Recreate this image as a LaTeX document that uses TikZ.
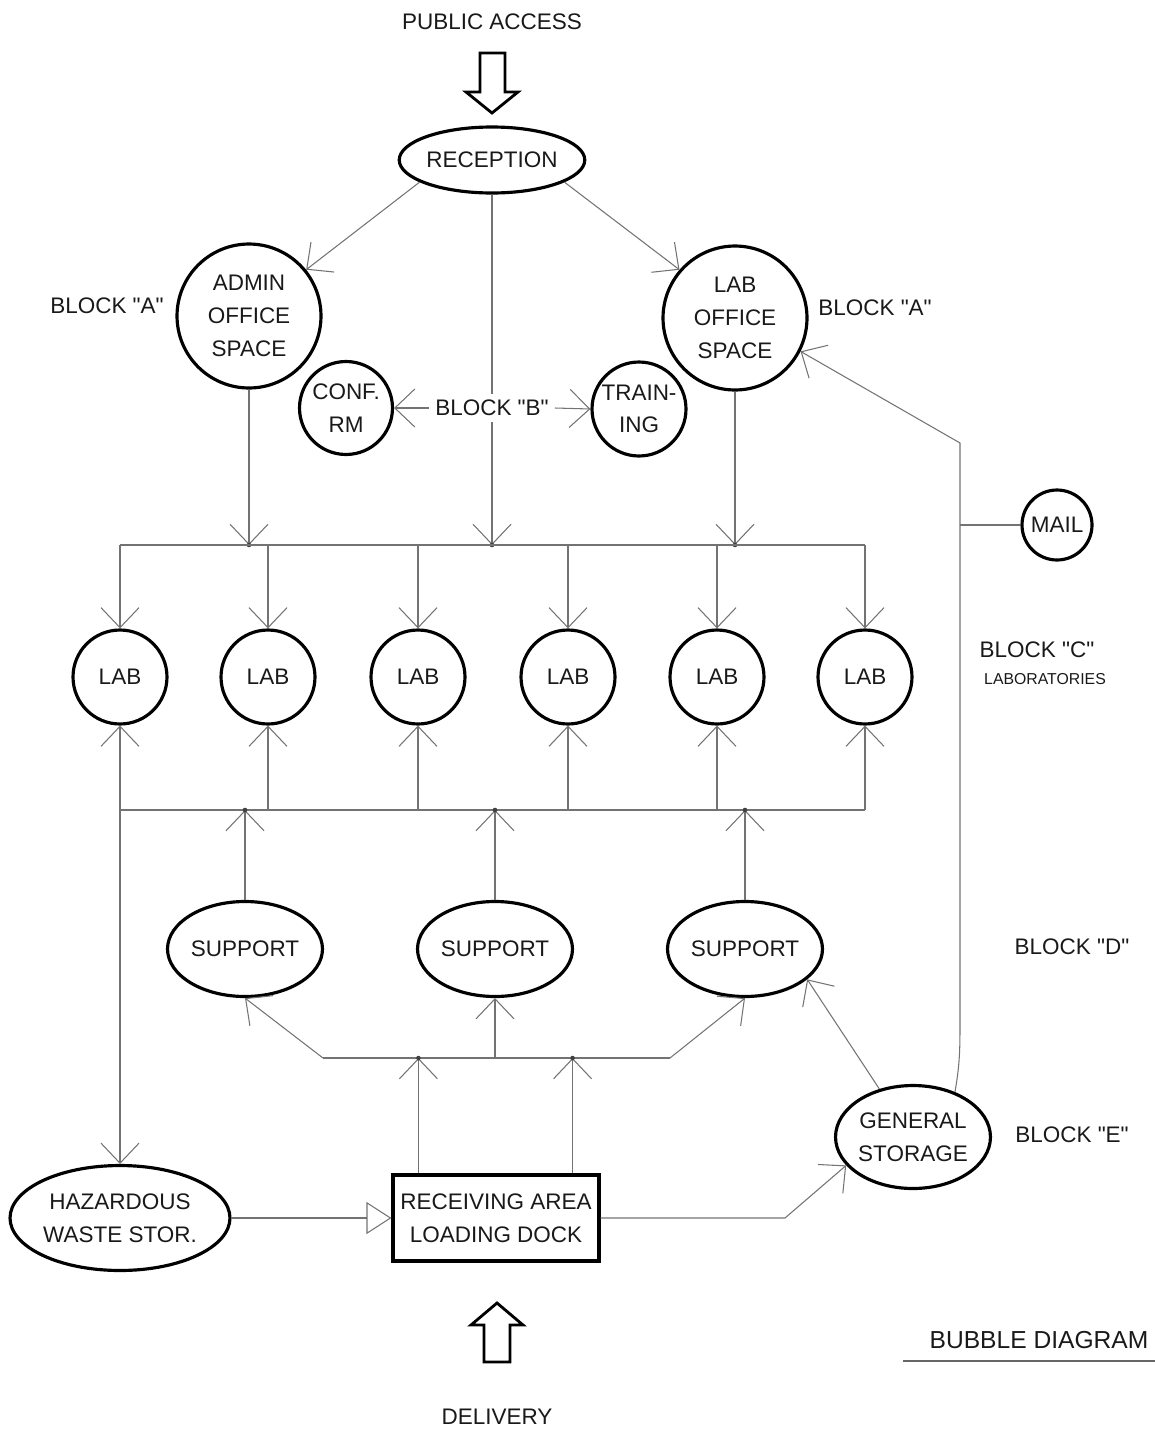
\documentclass[tikz,border=0pt]{standalone}
\usepackage{fontspec}
\setmainfont{Liberation Sans}
\usetikzlibrary{shapes.geometric,arrows.meta}
\newcommand{\qt}[1]{\textquotedbl#1\textquotedbl}

\begin{document}
\begin{tikzpicture}[x=0.02cm, y=-0.02cm,
    >={Straight Barb[length=0.4cm,width=0.76cm]},
    every node/.style={font=\fontsize{12.8}{18.6}\selectfont, text=black!90},
    line/.style={draw=black!55, line width=0.6pt},
    dot/.style={fill=black!75},
    bubble/.style={draw, circle, line width=1.8pt, inner sep=0pt, align=center, minimum size=#1},
    oval/.style 2 args={draw, ellipse, line width=1.8pt, inner sep=0pt, align=center, minimum width=#1, minimum height=#2},
    dock/.style={draw, rectangle, line width=1.8pt, inner sep=0pt, align=center, minimum width=4.12cm, minimum height=1.72cm}]
    \useasboundingbox (0,0) rectangle (1155,1430);

    % block A, B
    \node (pub) at (492,22) {PUBLIC ACCESS};
    \node[oval={3.14cm}{1.32cm}] (rec) at (492,160) {RECEPTION};
    \node[bubble=2.88cm] (admin) at (249,316) {ADMIN\\OFFICE\\SPACE};
    \node[bubble=2.88cm] (labofc) at (735,318) {LAB\\OFFICE\\SPACE};
    \node (blka1) at (107,306) {BLOCK \qt{A}};
    \node (blka2) at (875,308) {BLOCK \qt{A}};
    \node[bubble=1.86cm] (conf) at (346,408) {CONF.\\RM};
    \node[bubble=1.88cm] (train) at (639,409) {TRAIN-\\ING};
    \node (blkb) at (492,408) {BLOCK \qt{B}};
    \node[bubble=1.4cm] (mail) at (1057,525) {MAIL};

    % block C
    \node[bubble=1.88cm] (lab1) at (120,677) {LAB};
    \node[bubble=1.88cm] (lab2) at (268,677) {LAB};
    \node[bubble=1.88cm] (lab3) at (418,677) {LAB};
    \node[bubble=1.88cm] (lab4) at (568,677) {LAB};
    \node[bubble=1.88cm] (lab5) at (717,677) {LAB};
    \node[bubble=1.88cm] (lab6) at (865,677) {LAB};
    \node (blkc) at (1037,650) {BLOCK \qt{C}};
    \node[font=\fontsize{9}{11}\selectfont] (labs) at (1045,679) {LABORATORIES};

    % block D, E
    \node[oval={3.1cm}{1.9cm}] (sup1) at (245,949) {SUPPORT};
    \node[oval={3.1cm}{1.9cm}] (sup2) at (495,949) {SUPPORT};
    \node[oval={3.1cm}{1.9cm}] (sup3) at (745,949) {SUPPORT};
    \node (blkd) at (1072,947) {BLOCK \qt{D}};
    \node[oval={3.06cm}{2.06cm}] (stor) at (913,1137) {GENERAL\\STORAGE};
    \node (blke) at (1072,1135) {BLOCK \qt{E}};
    \node[oval={4.4cm}{2.1cm}] (haz) at (120,1218) {HAZARDOUS\\WASTE STOR.};
    \node[dock] (recv) at (496,1218) {RECEIVING AREA\\LOADING DOCK};
    \node (deliv) at (497,1417) {DELIVERY};
    \node[font=\fontsize{14}{16}\selectfont] (title) at (1039,1340) {BUBBLE DIAGRAM};

    \coordinate (tbus) at (0,545);
    \coordinate (bbus) at (0,810);
    \coordinate (sbus) at (0,1058);
    \coordinate (s1) at (323,1058);
    \coordinate (s2) at (670,1058);
    \coordinate (rbend) at (785,1218);
    \coordinate (mlow) at (960,1025);
    \coordinate (mbend) at (960,443);
    \coordinate (mjoin) at (960,525);

    % access arrows
    \draw[line width=1.6pt] (480,53) -- (505,53) -- (505,92) -- (518,92) -- (492,113) -- (466,92) -- (480,92) -- cycle;
    \draw[line width=1.6pt] (484,1362) -- (510,1362) -- (510,1325) -- (523,1325) -- (497,1303) -- (471,1325) -- (484,1325) -- cycle;
    \draw[line width=1pt, black!60] (903,1361) -- (1155,1361);

    % top part
    \draw[line,->] (rec.197) -- (admin.39);
    \draw[line,->] (rec.-17) -- (labofc.139);
    \draw[line] (rec.south) -- (blkb.north);
    \draw[line,->] (blkb.west) -- (conf.east);
    \draw[line,->] (blkb.east) -- (train.west);
    \draw[line,->] (blkb.south) -- (blkb.south |- tbus);
    \draw[line,->] (admin.south) -- (admin.south |- tbus);
    \draw[line,->] (labofc.south) -- (labofc.south |- tbus);
    \fill[dot] (blkb.south |- tbus) circle (1.3pt);
    \fill[dot] (admin.south |- tbus) circle (1.3pt);
    \fill[dot] (labofc.south |- tbus) circle (1.3pt);

    % labs
    \draw[line] (lab1.north |- tbus) -- (lab6.north |- tbus);
    \draw[line,->] (lab1.north |- tbus) -- (lab1.north);
    \draw[line,->] (lab2.north |- tbus) -- (lab2.north);
    \draw[line,->] (lab3.north |- tbus) -- (lab3.north);
    \draw[line,->] (lab4.north |- tbus) -- (lab4.north);
    \draw[line,->] (lab5.north |- tbus) -- (lab5.north);
    \draw[line,->] (lab6.north |- tbus) -- (lab6.north);
    \draw[line] (lab1.south |- bbus) -- (lab6.south |- bbus);
    \draw[line,->] (lab1.south |- bbus) -- (lab1.south);
    \draw[line,->] (lab2.south |- bbus) -- (lab2.south);
    \draw[line,->] (lab3.south |- bbus) -- (lab3.south);
    \draw[line,->] (lab4.south |- bbus) -- (lab4.south);
    \draw[line,->] (lab5.south |- bbus) -- (lab5.south);
    \draw[line,->] (lab6.south |- bbus) -- (lab6.south);
    \draw[line,->] (lab1.south |- bbus) -- (haz.north);

    % support
    \draw[line,->] (sup1.north) -- (sup1.north |- bbus);
    \draw[line,->] (sup2.north) -- (sup2.north |- bbus);
    \draw[line,->] (sup3.north) -- (sup3.north |- bbus);
    \fill[dot] (sup1.north |- bbus) circle (1.3pt);
    \fill[dot] (sup2.north |- bbus) circle (1.3pt);
    \fill[dot] (sup3.north |- bbus) circle (1.3pt);
    \draw[line,->] (s1) -- (sup1.south);
    \draw[line] (s1) -- (s2);
    \draw[line,->] (s2) -- (sup3.south);
    \draw[line,->] (sup2.south |- sbus) -- (sup2.south);

    % receiving, storage
    \draw[line,->] ([xshift=0.54cm]recv.north west) -- ([xshift=0.54cm]recv.north west |- sbus);
    \draw[line,->] ([xshift=-0.56cm]recv.north east) -- ([xshift=-0.56cm]recv.north east |- sbus);
    \fill[dot] ([xshift=0.54cm]recv.north west |- sbus) circle (1.3pt);
    \fill[dot] ([xshift=-0.56cm]recv.north east |- sbus) circle (1.3pt);
    \draw[line,-{Triangle[open,length=0.5cm,width=0.64cm]}] (haz.east) -- (recv.west);
    \draw[line,->] (recv.east) -- (recv.east -| rbend) -- (stor.203);
    \draw[line,->] (stor.125) -- (sup3.-26);
    \draw[line,->] (stor.47) to[out=80,in=-90] (mlow) -- (mbend) -- (labofc.-27);
    \draw[line] (mjoin) -- (mail.west);
\end{tikzpicture}
\end{document}
